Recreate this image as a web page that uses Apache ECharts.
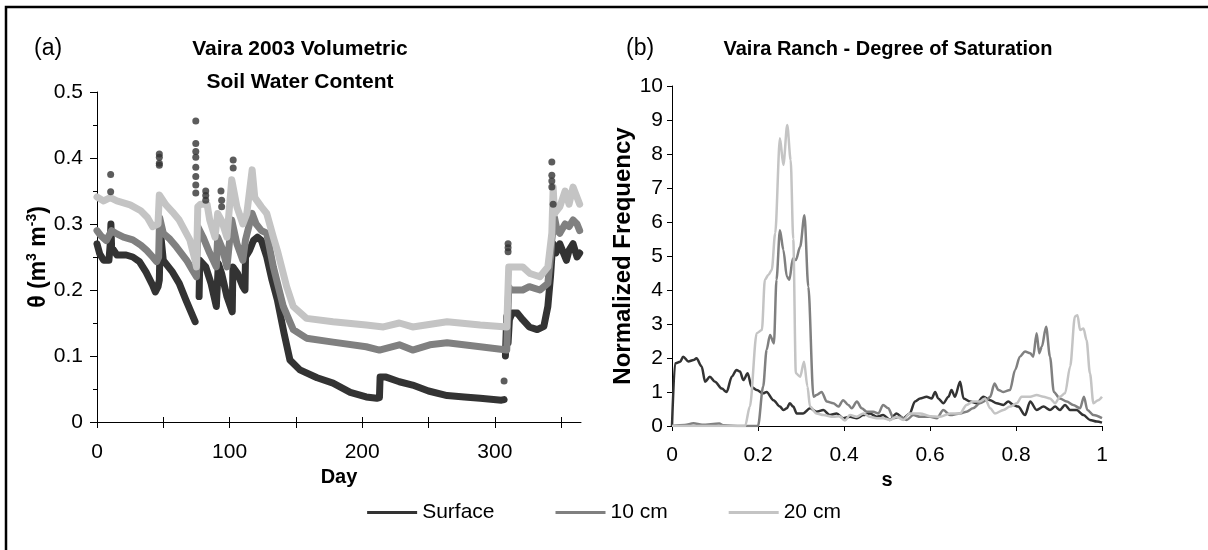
<!DOCTYPE html>
<html>
<head>
<meta charset="utf-8">
<script src="https://cdn.jsdelivr.net/npm/echarts@6/dist/echarts.min.js"></script>
<style>
  html, body { margin: 0; padding: 0; background: #fff; }
  #chart { width: 1208px; height: 550px; }
</style>
</head>
<body>
<div id="chart"></div>
<script>
// ---- (a) Volumetric soil water content, [day, theta] ----
const seriesNames = ['Surface', '10 cm', '20 cm'];

const thetaSurface = [
  [0,0.27],[2,0.255],[5,0.245],[9,0.245],[10,0.27],[10.5,0.3],[11,0.265],[15,0.253],[22,0.253],
  [27,0.25],[32,0.243],[37,0.227],[42,0.207],[44,0.197],[46,0.205],[47,0.215],[47.5,0.26],[48,0.285],
  [50,0.245],[57,0.227],[62,0.21],[67,0.185],[74,0.152],null,
  [77,0.19],[77.5,0.245],[82,0.235],[86,0.21],[90,0.175],[91,0.172],[91.5,0.24],[94,0.225],[98,0.19],
  [102,0.167],[102.5,0.235],[106,0.225],[110,0.205],[111.6,0.2],[112,0.25],[115,0.26],[118,0.275],
  [121,0.28],[124,0.275],[128,0.25],[132,0.215],[136,0.185],[141,0.135],[145.5,0.094],[153,0.079],
  [166,0.067],[178,0.059],[191,0.045],[203,0.038],[211,0.036],[213,0.037],[213.5,0.068],[218,0.068],
  [228,0.061],[238,0.056],[250,0.047],[264,0.04],[277,0.038],[289,0.036],[305,0.033],[307,0.034],null,
  [308,0.1],[309,0.16],[310,0.12],[311,0.155],[313,0.165],[317,0.165],[321,0.155],[326,0.144],
  [332,0.14],[337,0.145],[340,0.175],[342,0.22],[343,0.25],[344,0.27],[346,0.256],[349,0.27],
  [351,0.26],[354,0.245],[356,0.26],[359,0.27],[362,0.25],[364,0.256]
];

const theta10cm = [
  [0,0.29],[3,0.282],[7,0.275],[10,0.286],[11,0.29],[15,0.285],[20,0.28],[27,0.276],[33,0.268],
  [37.5,0.26],[42,0.25],[45,0.243],[46.5,0.25],[47.2,0.31],[50,0.286],[55,0.277],[60,0.265],
  [67.6,0.245],[72,0.23],[75,0.22],[76,0.296],[80,0.28],[85,0.256],[90,0.235],[91,0.28],[95,0.26],
  [98,0.235],[101.6,0.306],[105.5,0.27],[110,0.245],[112,0.276],[117,0.316],[120,0.3],[124,0.29],
  [128,0.286],[133,0.235],[140.5,0.175],[148,0.14],[158,0.127],[178,0.121],[203,0.114],[213,0.109],
  [228,0.117],[238,0.109],[251,0.117],[264,0.12],[289,0.114],[309,0.109],[310.5,0.205],[312,0.2],
  [321,0.2],[326,0.205],[334,0.2],[340,0.21],[342,0.25],[343,0.276],[345,0.31],[347,0.29],
  [349,0.286],[353,0.3],[356,0.296],[359,0.306],[362,0.3],[364,0.29]
];

const theta20cm = [
  [0,0.341],[5,0.335],[10,0.34],[15,0.335],[25,0.329],[33,0.32],[38,0.31],[42,0.296],[46,0.3],
  [47,0.344],[52,0.329],[57,0.318],[62,0.306],[70,0.276],[74,0.245],[75,0.235],[76,0.326],[78,0.33],
  [83,0.33],[85,0.306],[89,0.28],[91,0.316],[94,0.305],[98,0.28],[101.6,0.367],[105.5,0.326],
  [110,0.3],[113,0.316],[117,0.382],[119,0.34],[124,0.326],[128,0.316],[133,0.28],[136,0.26],
  [143,0.205],[148,0.175],[158,0.157],[178,0.152],[203,0.147],[216,0.144],[228,0.15],[238,0.144],
  [264,0.152],[289,0.147],[309,0.144],[310.5,0.235],[312,0.238],[321,0.235],[326.5,0.225],
  [334,0.22],[340,0.235],[343,0.286],[344,0.356],[345,0.316],[349,0.326],[353,0.35],[356,0.33],
  [359,0.356],[364,0.33]
];

// isolated surface readings after rain events
const thetaSurfaceSpikes = [
  [10.3,0.375],[10.3,0.349],[47,0.406],[47,0.401],[47,0.392],[47,0.389],
  [74.5,0.456],[74.5,0.422],[74.5,0.41],[74.5,0.401],[74.5,0.386],[74.5,0.372],[74.5,0.359],[74.5,0.347],
  [82,0.35],[82,0.343],[82,0.336],[93.5,0.35],[94,0.336],[94,0.326],[102.7,0.397],[102.7,0.385],
  [307,0.062],[310,0.27],[310,0.264],[310,0.258],[343,0.394],[343,0.374],[343,0.365],[343,0.356],[344,0.33]
];

// ---- (b) Degree of saturation histogram, [s, normalized frequency] ----
const satSurface = [
  [0,0],[0.007,1.84],[0.019,1.89],[0.026,2.04],[0.038,1.9],[0.05,1.94],[0.057,1.99],[0.069,1.75],
  [0.077,1.3],[0.088,1.45],[0.1,1.3],[0.116,1.1],[0.127,1.0],[0.139,1.45],[0.15,1.65],[0.158,1.6],
  [0.166,1.35],[0.176,1.55],[0.185,1.15],[0.197,1.06],[0.212,0.96],[0.22,1.0],[0.236,0.76],
  [0.251,0.57],[0.259,0.47],[0.267,0.52],[0.274,0.67],[0.282,0.57],[0.29,0.37],[0.305,0.37],
  [0.321,0.52],[0.336,0.42],[0.352,0.47],[0.367,0.32],[0.383,0.37],[0.398,0.23],[0.414,0.27],
  [0.43,0.23],[0.445,0.32],[0.46,0.37],[0.476,0.27],[0.491,0.32],[0.507,0.18],[0.522,0.37],
  [0.538,0.23],[0.553,0.37],[0.565,0.72],[0.577,0.81],[0.592,0.86],[0.604,0.81],[0.612,1.0],
  [0.619,0.81],[0.631,0.67],[0.643,0.86],[0.65,1.06],[0.658,0.86],[0.67,1.3],[0.678,0.81],
  [0.693,0.72],[0.709,0.67],[0.724,0.86],[0.74,0.76],[0.755,0.67],[0.771,0.62],[0.782,0.72],
  [0.794,0.62],[0.805,0.57],[0.821,0.32],[0.833,0.72],[0.848,0.47],[0.864,0.57],[0.879,0.47],
  [0.891,0.57],[0.902,0.47],[0.914,0.62],[0.926,0.47],[0.941,0.47],[0.957,0.32],[0.972,0.18],
  [0.988,0.13],[1.0,0.1]
];

const sat10cm = [
  [0,0],[0.03,0.03],[0.05,0.08],[0.07,0.04],[0.11,0.07],[0.12,0.02],[0.16,0],[0.2,0],[0.212,1.16],
  [0.22,2.24],[0.228,2.68],[0.237,2.43],[0.243,4.3],[0.251,5.76],[0.259,5.18],[0.267,4.4],
  [0.273,4.3],[0.281,4.93],[0.288,4.88],[0.298,5.27],[0.308,6.2],[0.317,4.1],[0.329,0.86],
  [0.336,0.91],[0.348,1.0],[0.36,0.72],[0.375,0.67],[0.387,0.57],[0.398,0.76],[0.41,0.62],
  [0.418,0.52],[0.43,0.72],[0.441,0.52],[0.453,0.42],[0.468,0.42],[0.48,0.37],[0.491,0.62],
  [0.503,0.52],[0.515,0.23],[0.53,0.27],[0.546,0.18],[0.561,0.32],[0.577,0.27],[0.6,0.27],
  [0.616,0.23],[0.631,0.47],[0.647,0.32],[0.67,0.37],[0.685,0.42],[0.7,0.52],[0.716,0.67],
  [0.732,0.76],[0.74,0.86],[0.75,1.25],[0.759,1.06],[0.771,1.0],[0.786,1.06],[0.798,1.65],
  [0.809,2.04],[0.821,2.19],[0.833,2.14],[0.84,2.04],[0.848,2.73],[0.854,2.14],[0.86,2.33],
  [0.87,2.92],[0.879,2.04],[0.888,1.0],[0.902,0.81],[0.918,0.72],[0.933,0.62],[0.949,0.52],
  [0.958,0.86],[0.966,0.47],[0.98,0.32],[1.0,0.23]
];

const sat20cm = [
  [0,0],[0.17,0],[0.181,0.57],[0.197,2.73],[0.209,2.82],[0.216,4.3],[0.224,4.44],[0.232,4.59],
  [0.24,5.67],[0.251,8.46],[0.259,7.68],[0.268,8.85],[0.276,7.82],[0.282,5.5],[0.288,1.55],
  [0.298,1.45],[0.307,1.89],[0.315,1.16],[0.321,0.57],[0.336,0.37],[0.352,0.32],[0.375,0.27],
  [0.39,0.29],[0.402,0.16],[0.414,0.32],[0.43,0.27],[0.445,0.37],[0.46,0.27],[0.476,0.23],
  [0.491,0.23],[0.507,0.18],[0.522,0.27],[0.538,0.18],[0.553,0.37],[0.577,0.37],[0.6,0.29],
  [0.623,0.27],[0.647,0.37],[0.67,0.37],[0.685,0.62],[0.7,0.72],[0.716,0.72],[0.728,0.81],
  [0.74,0.52],[0.751,0.37],[0.771,0.47],[0.786,0.57],[0.802,0.67],[0.813,0.86],[0.833,0.86],
  [0.848,0.91],[0.864,0.86],[0.879,0.81],[0.891,0.67],[0.902,0.86],[0.914,0.96],[0.926,1.75],
  [0.937,3.22],[0.943,3.26],[0.949,2.82],[0.957,2.87],[0.964,2.53],[0.972,1.55],[0.98,0.67],
  [0.991,0.76],[1.0,0.86]
];

// axis tick positions
const dayTicks = [0, 50, 100, 150, 200, 250, 300, 350];
const dayLabels = [0, 100, 200, 300];

const FONT = "'Liberation Sans', Arial, sans-serif";
const BLACK = '#000';
const shades = { 'Surface': '#333333', '10 cm': '#808080', '20 cm': '#c4c4c4' };

const chart = echarts.init(document.getElementById('chart'));

const baseAxis = {
  axisLine: { show: true, lineStyle: { color: BLACK, width: 1 } },
  splitLine: { show: false },
  axisLabel: { color: BLACK, fontSize: 21, fontFamily: FONT },
};

function bandSeries(name, data) {
  return {
    name, type: 'line', xAxisIndex: 0, yAxisIndex: 0, data,
    showSymbol: false, symbol: 'none', connectNulls: false,
    color: shades[name],
    lineStyle: { width: 7, color: shades[name], cap: 'round', join: 'round' },
    animation: false
  };
}

function satSeries(name, data) {
  return {
    name, type: 'line', xAxisIndex: 2, yAxisIndex: 2, data,
    showSymbol: false, symbol: 'none', smooth: 0.3, smoothMonotone: 'x',
    color: shades[name],
    lineStyle: { width: 2.5, color: shades[name] },
    animation: false
  };
}

const option = {
  animation: false,
  backgroundColor: '#fff',
  textStyle: { fontFamily: FONT },
  grid: [
    { left: 97, top: 92, width: 484, height: 330 },
    { left: 672, top: 86, width: 430, height: 340 }
  ],
  xAxis: [
    Object.assign({}, baseAxis, {
      gridIndex: 0, type: 'value', position: 'bottom', min: 0, max: 365,
      axisTick: { show: true, inside: false, length: 6, lineStyle: { color: BLACK }, customValues: dayTicks },
      axisLabel: Object.assign({}, baseAxis.axisLabel, { margin: 20, customValues: dayLabels }),
      name: 'Day', nameLocation: 'middle', nameGap: 43,
      nameTextStyle: { color: BLACK, fontSize: 20, fontWeight: 'bold', fontFamily: FONT }
    }),
    {
      gridIndex: 0, type: 'value', position: 'bottom', min: 0, max: 365,
      axisLine: { show: false }, splitLine: { show: false }, axisLabel: { show: false },
      axisTick: { show: true, inside: true, length: 5, lineStyle: { color: BLACK }, customValues: dayTicks }
    },
    Object.assign({}, baseAxis, {
      gridIndex: 1, type: 'value', min: 0, max: 1, interval: 0.2,
      axisTick: { show: true, inside: false, length: 5, lineStyle: { color: BLACK } },
      axisLabel: Object.assign({}, baseAxis.axisLabel, { margin: 19 }),
      name: 's', nameLocation: 'middle', nameGap: 40,
      nameTextStyle: { color: BLACK, fontSize: 20, fontWeight: 'bold', fontFamily: FONT }
    })
  ],
  yAxis: [
    Object.assign({}, baseAxis, {
      gridIndex: 0, type: 'value', min: 0, max: 0.5, interval: 0.1,
      axisTick: { show: true, inside: false, length: 7, lineStyle: { color: BLACK } },
      axisLabel: Object.assign({}, baseAxis.axisLabel, { margin: 14 }),
      name: '{t|θ (m}{s|3}{t| m}{s|-3}{t|)}', nameLocation: 'middle', nameGap: 37,
      nameTextStyle: {
        color: BLACK, fontFamily: FONT,
        rich: {
          t: { fontSize: 23, fontWeight: 'bold', color: BLACK, fontFamily: FONT, lineHeight: 27 },
          s: { fontSize: 14, fontWeight: 'bold', color: BLACK, fontFamily: FONT, verticalAlign: 'top', lineHeight: 15 }
        }
      }
    }),
    {
      gridIndex: 0, type: 'value', min: 0, max: 0.5, interval: 0.05,
      axisLine: { show: false }, splitLine: { show: false }, axisLabel: { show: false },
      axisTick: { show: true, inside: true, length: 4, lineStyle: { color: BLACK } }
    },
    Object.assign({}, baseAxis, {
      gridIndex: 1, type: 'value', min: 0, max: 10, interval: 1,
      axisTick: { show: true, inside: false, length: 5, lineStyle: { color: BLACK } },
      axisLabel: Object.assign({}, baseAxis.axisLabel, { margin: 9 }),
      name: 'Normalized Frequency', nameLocation: 'middle', nameGap: 31,
      nameTextStyle: { color: BLACK, fontSize: 24, fontWeight: 'bold', fontFamily: FONT }
    })
  ],
  legend: {
    data: seriesNames,
    left: 'center', top: 497,
    icon: 'rect', itemWidth: 50, itemHeight: 3, itemGap: 61,
    textStyle: { color: BLACK, fontSize: 21, fontFamily: FONT },
    selectedMode: false
  },
  series: [
    bandSeries('Surface', thetaSurface),
    bandSeries('10 cm', theta10cm),
    bandSeries('20 cm', theta20cm),
    {
      name: 'Surface', type: 'scatter', xAxisIndex: 0, yAxisIndex: 0,
      data: thetaSurfaceSpikes, symbol: 'circle', symbolSize: 7,
      itemStyle: { color: shades['Surface'] }, z: 3, animation: false
    },
    satSeries('Surface', satSurface),
    satSeries('10 cm', sat10cm),
    satSeries('20 cm', sat20cm)
  ],
  graphic: [
    { type: 'rect', shape: { x: 6, y: 7, width: 1214, height: 560 },
      style: { fill: 'none', stroke: BLACK, lineWidth: 2.5 }, silent: true },
    { type: 'text', x: 34, y: 49,
      style: { text: '(a)', fontSize: 23, fontFamily: FONT, fill: BLACK, align: 'left', verticalAlign: 'middle' } },
    { type: 'text', x: 300, y: 49,
      style: { text: 'Vaira 2003 Volumetric', fontSize: 21, fontWeight: 'bold', fontFamily: FONT, fill: BLACK, align: 'center', verticalAlign: 'middle' } },
    { type: 'text', x: 300, y: 82,
      style: { text: 'Soil Water Content', fontSize: 21, fontWeight: 'bold', fontFamily: FONT, fill: BLACK, align: 'center', verticalAlign: 'middle' } },
    { type: 'text', x: 626, y: 49,
      style: { text: '(b)', fontSize: 23, fontFamily: FONT, fill: BLACK, align: 'left', verticalAlign: 'middle' } },
    { type: 'text', x: 888, y: 49,
      style: { text: 'Vaira Ranch - Degree of Saturation', fontSize: 20, fontWeight: 'bold', fontFamily: FONT, fill: BLACK, align: 'center', verticalAlign: 'middle' } }
  ]
};

chart.setOption(option);
</script>
</body>
</html>
